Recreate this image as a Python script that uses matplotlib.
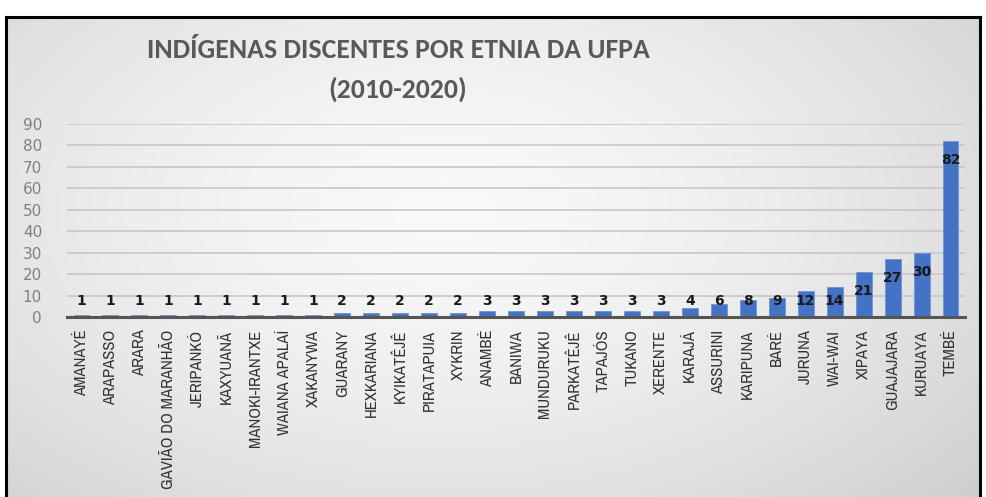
import numpy as np
import matplotlib
matplotlib.use("Agg")
import matplotlib.pyplot as plt

categories = ["AMANAYÉ", "ARAPASSO", "ARARA", "GAVIÃO DO MARANHÃO", "JERIPANKÓ",
              "KAXYUANÃ", "MANOKI-IRANTXE", "WAIANA APALAÍ", "XAKANYWA",
              "GUARANY", "HEXKARIANA", "KYIKATÊJÊ", "PIRATAPUIA", "XYKRIN",
              "ANAMBÉ", "BANIWA", "MUNDURUKU", "PARKATÊJÊ", "TAPAJÓS", "TUKANO",
              "XERENTE", "KARAJÁ", "ASSURINI", "KARIPUNA", "BARÉ", "JURUNA",
              "WAI-WAI", "XIPAYA", "GUAJAJARA", "KURUAYA", "TEMBÉ"]
values = [1, 1, 1, 1, 1, 1, 1, 1, 1,
          2, 2, 2, 2, 2,
          3, 3, 3, 3, 3, 3, 3,
          4, 6, 8, 9, 12, 14, 21, 27, 30, 82]
yticks = [0, 10, 20, 30, 40, 50, 60, 70, 80, 90]
title_lines = ["INDÍGENAS DISCENTES POR ETNIA DA UFPA", "(2010-2020)"]

NARROW = ["Liberation Sans Narrow", "Archivo Narrow", "Roboto Condensed",
          "Open Sans Condensed", "Carlito", "DejaVu Sans"]
CALIBRI = ["Carlito", "Liberation Sans Narrow", "Archivo Narrow", "DejaVu Sans"]

W, H = 986, 497
fig = plt.figure(figsize=(W / 100, H / 100), dpi=100)
fig.patch.set_facecolor("white")

# background panel with gradient
fx0, fx1, fy0, fy1 = 6, 980, 17, 500
bg = fig.add_axes([fx0 / W, 1 - fy1 / H, (fx1 - fx0) / W, (fy1 - fy0) / H])
yy, xx = np.mgrid[0:1:200j, 0:1:400j]
r = np.sqrt(((xx - 0.45) / 0.75) ** 2 + ((yy - 0.40) / 0.9) ** 2)
g = 0.975 - 0.17 * np.clip(r, 0, 1.2) ** 1.6
bg.imshow(np.dstack([g, g, g]), aspect="auto", extent=[0, 1, 0, 1], origin="upper")
bg.set_xticks([]); bg.set_yticks([])
for s in bg.spines.values():
    s.set_color("black"); s.set_linewidth(2.2)
bg.set_zorder(0)

# main axes
ax_l, ax_r, ax_t, ax_b = 67, 965, 124, 317
ax = fig.add_axes([ax_l / W, 1 - ax_b / H, (ax_r - ax_l) / W, (ax_b - ax_t) / H])
ax.set_zorder(1)
ax.patch.set_alpha(0)
x = np.arange(len(categories))
ax.bar(x, values, width=0.55, color="#4472C4", edgecolor="#6f93d6", linewidth=0.6, zorder=3)
ax.set_xlim(-0.5, len(categories) - 0.5)
ax.set_ylim(0, 90)
ax.set_yticks(yticks)
ax.set_yticklabels([str(t) for t in yticks], fontsize=11, color="#808080")
ax.set_xticks(x)
ax.set_xticklabels(categories, rotation=90, fontsize=12, color="#333333", family=NARROW)
ax.tick_params(axis="both", length=0)
ax.tick_params(axis="y", pad=18)
ax.tick_params(axis="x", pad=9)
ax.yaxis.grid(True, color="#c4c4c4", linewidth=1.1, zorder=0)
ax.set_axisbelow(True)
for s in ["top", "right", "left"]:
    ax.spines[s].set_visible(False)
ax.spines["bottom"].set_color("#555555")
ax.spines["bottom"].set_linewidth(2.2)
ax.spines["bottom"].set_zorder(4)

for xi, v in zip(x, values):
    ax.text(xi, max(v - 9, 7.5), str(v), ha="center", va="center",
            fontsize=10, fontweight="bold", color="#1a1a1a", zorder=5)

fig.text(398 / W, 1 - 50 / H, title_lines[0], ha="center", va="center", fontsize=20,
         fontweight="bold", color="#595959", family=CALIBRI)
fig.text(398 / W, 1 - 89 / H, title_lines[1], ha="center", va="center", fontsize=20,
         fontweight="bold", color="#595959", family=CALIBRI)

fig.savefig("out.png", dpi=100)
